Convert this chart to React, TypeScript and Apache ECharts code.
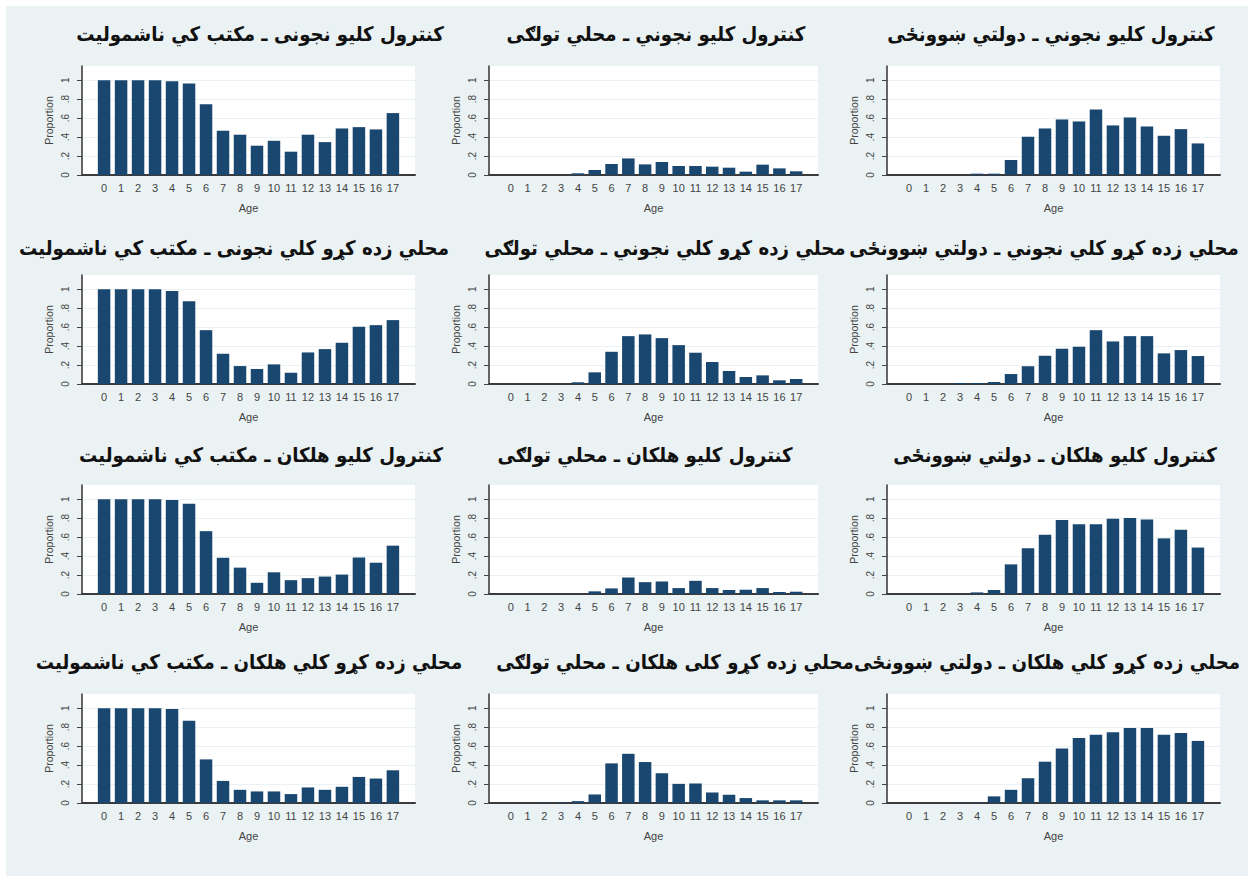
import React, { useEffect, useRef } from "react";
import * as echarts from "echarts";

const ages = [0, 1, 2, 3, 4, 5, 6, 7, 8, 9, 10, 11, 12, 13, 14, 15, 16, 17];
const yTicks = [0, 0.2, 0.4, 0.6, 0.8, 1];

const titles = [
  "کنترول کلیو نجونی ـ مکتب کي ناشمولیت",
  "کنترول کلیو نجوني ـ محلي تولګی",
  "کنترول کلیو نجوني ـ دولتي ښوونځی",
  "محلي زده کړو کلي نجونی ـ مکتب کي ناشمولیت",
  "محلي زده کړو کلي نجوني ـ محلي تولګی",
  "محلي زده کړو کلي نجوني ـ دولتي ښوونځی",
  "کنترول کلیو هلکان ـ مکتب کي ناشمولیت",
  "کنترول کلیو هلکان ـ محلي تولګی",
  "کنترول کلیو هلکان ـ دولتي ښوونځی",
  "محلي زده کړو کلي هلکان ـ مکتب کي ناشمولیت",
  "محلي زده کړو کلی هلکان ـ محلي تولګی",
  "محلي زده کړو کلي هلکان ـ دولتي ښوونځی",
];

// Control village girls
const ctrlGirlsOut = [1.0, 1.0, 1.0, 1.0, 0.99, 0.965, 0.747, 0.467, 0.425, 0.309, 0.361, 0.246, 0.425, 0.347, 0.491, 0.505, 0.481, 0.653];
const ctrlGirlsCommunity = [0, 0, 0, 0, 0.018, 0.053, 0.116, 0.175, 0.112, 0.137, 0.095, 0.095, 0.088, 0.077, 0.035, 0.109, 0.07, 0.039];
const ctrlGirlsGov = [0, 0, 0, 0, 0.014, 0.014, 0.158, 0.404, 0.491, 0.586, 0.565, 0.691, 0.523, 0.607, 0.512, 0.414, 0.484, 0.333];
// CBE village girls
const cbeGirlsOut = [1.0, 1.0, 1.0, 1.0, 0.982, 0.874, 0.568, 0.319, 0.189, 0.158, 0.207, 0.119, 0.333, 0.368, 0.435, 0.604, 0.621, 0.674];
const cbeGirlsCommunity = [0, 0, 0, 0, 0.018, 0.123, 0.34, 0.505, 0.523, 0.484, 0.41, 0.33, 0.232, 0.137, 0.074, 0.091, 0.039, 0.053];
const cbeGirlsGov = [0, 0, 0, 0.01, 0.01, 0.021, 0.105, 0.186, 0.298, 0.372, 0.393, 0.568, 0.449, 0.505, 0.505, 0.323, 0.358, 0.295];
// Control village boys
const ctrlBoysOut = [1.0, 1.0, 1.0, 1.0, 0.993, 0.951, 0.663, 0.382, 0.278, 0.118, 0.229, 0.146, 0.167, 0.184, 0.205, 0.385, 0.33, 0.51];
const ctrlBoysCommunity = [0, 0, 0, 0, 0, 0.028, 0.059, 0.174, 0.125, 0.132, 0.0625, 0.139, 0.0625, 0.042, 0.045, 0.0625, 0.021, 0.024];
const ctrlBoysGov = [0, 0, 0, 0, 0.017, 0.042, 0.3125, 0.483, 0.625, 0.78, 0.736, 0.736, 0.795, 0.802, 0.785, 0.587, 0.677, 0.49];
// CBE village boys
const cbeBoysOut = [1.0, 1.0, 1.0, 1.0, 0.993, 0.868, 0.46, 0.233, 0.139, 0.122, 0.122, 0.094, 0.164, 0.139, 0.171, 0.275, 0.258, 0.345];
const cbeBoysCommunity = [0, 0, 0.007, 0.007, 0.02, 0.09, 0.418, 0.519, 0.432, 0.314, 0.202, 0.206, 0.111, 0.087, 0.052, 0.028, 0.028, 0.028];
const cbeBoysGov = [0, 0, 0, 0.007, 0.007, 0.07, 0.139, 0.261, 0.436, 0.575, 0.686, 0.721, 0.746, 0.791, 0.791, 0.721, 0.739, 0.655];

const panels = [
  ctrlGirlsOut, ctrlGirlsCommunity, ctrlGirlsGov,
  cbeGirlsOut, cbeGirlsCommunity, cbeGirlsGov,
  ctrlBoysOut, ctrlBoysCommunity, ctrlBoysGov,
  cbeBoysOut, cbeBoysCommunity, cbeBoysGov,
];

// layout (pixels)
const colLeft = [82, 489, 887];
const colWidth = [333, 329, 333];
const rowBase = [175, 384, 594, 803];
const plotH = 109;
const titleX = [
  [260, 656, 1051],
  [234, 665, 1044],
  [261, 645, 1055],
  [249, 675, 1047],
];
const titleY = [34, 248, 455, 662];

const BG = "#eaf2f3";
const BAR = "#1a476f";
const TXT = "#444";
const FONT = "'Liberation Sans', Arial, sans-serif";

function yFmt(v: number) {
  if (v === 0) return "0";
  if (Math.abs(v - 1) < 1e-9) return "1";
  if (v > 1) return "";
  return "." + Math.round(v * 10);
}

export default function App() {
  const ref = useRef<HTMLDivElement>(null);
  useEffect(() => {
    if (!ref.current) return;
    const chart = echarts.init(ref.current, undefined, { renderer: "svg" });
    const grids: any[] = [];
    const xAxes: any[] = [];
    const yAxes: any[] = [];
    const series: any[] = [];
    const graphics: any[] = [
      { type: "rect", shape: { x: 0, y: 0, width: 1248, height: 6 }, style: { fill: "#fff" }, silent: true },
      { type: "rect", shape: { x: 0, y: 0, width: 6, height: 876 }, style: { fill: "#fff" }, silent: true },
    ];
    panels.forEach((vals, i) => {
      const r = Math.floor(i / 3);
      const c = i % 3;
      grids.push({
        left: colLeft[c],
        top: rowBase[r] - plotH,
        width: colWidth[c],
        height: plotH,
        show: true,
        backgroundColor: "#fff",
        borderWidth: 0,
        containLabel: false,
        outerBoundsMode: "none",
      });
      xAxes.push({
        gridIndex: i,
        type: "value",
        min: -1.3,
        max: 18.3,
        axisLine: { show: true, onZero: false, lineStyle: { color: "#3a3a3a", width: 2 } },
        axisTick: { show: false },
        splitLine: { show: false },
        axisLabel: {
          customValues: ages,
          formatter: (v: number) => String(v),
          fontSize: 11,
          color: TXT,
          margin: 7,
          fontFamily: FONT,
        },
        name: "Age",
        nameLocation: "middle",
        nameGap: 27,
        nameTextStyle: { fontSize: 11, color: TXT, fontFamily: FONT },
      });
      yAxes.push({
        gridIndex: i,
        type: "value",
        min: 0,
        max: 1.15,
        interval: 0.2,
        axisLine: { show: true, onZero: false, lineStyle: { color: "#333", width: 1.5 } },
        axisTick: { show: true, customValues: yTicks, length: 5, lineStyle: { color: "#444" } },
        axisLabel: {
          customValues: yTicks,
          rotate: 90,
          formatter: yFmt,
          fontSize: 10,
          color: TXT,
          margin: 12,
          fontFamily: FONT,
        },
        splitLine: { show: true, lineStyle: { color: BG, width: 1 } },
        name: "Proportion",
        nameLocation: "middle",
        nameGap: 28,
        nameTextStyle: { fontSize: 10.5, color: TXT, fontFamily: FONT },
      });
      series.push({
        type: "bar",
        xAxisIndex: i,
        yAxisIndex: i,
        barWidth: 12.5,
        data: ages.map((a, j) => [a, vals[j]]),
        itemStyle: { color: BAR },
      });
      graphics.push({
        type: "text",
        x: titleX[r][c],
        y: titleY[r],
        scaleX: 0.91,
        style: {
          text: titles[i],
          fill: "#111",
          font: "bold 20px 'DejaVu Sans', sans-serif",
          textAlign: "center",
          textVerticalAlign: "middle",
        },
        silent: true,
      });
    });
    chart.setOption({
      animation: false,
      backgroundColor: BG,
      grid: grids,
      xAxis: xAxes,
      yAxis: yAxes,
      series,
      graphic: graphics,
    });
    return () => chart.dispose();
  }, []);
  return (
    <div
      ref={ref}
      style={{ position: "fixed", left: 0, top: 0, width: 1248, height: 876 }}
    />
  );
}
